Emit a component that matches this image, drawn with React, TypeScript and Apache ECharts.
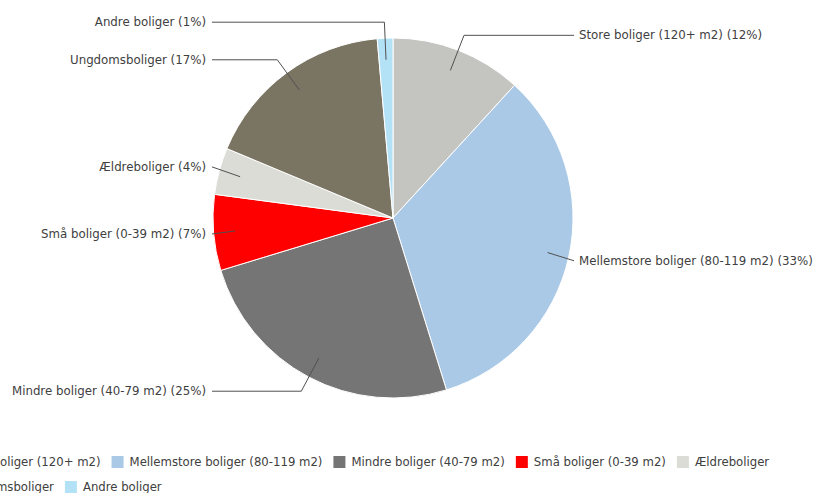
import React, { useEffect, useRef } from "react";
import * as echarts from "echarts";

const categories = [
  "Store boliger (120+ m2)",
  "Mellemstore boliger (80-119 m2)",
  "Mindre boliger (40-79 m2)",
  "Små boliger (0-39 m2)",
  "Ældreboliger",
  "Ungdomsboliger",
  "Andre boliger",
];
const shares = [11.8, 33.4, 25.1, 6.8, 4.2, 17.3, 1.4];
const colors = ["#c4c4c0", "#a9c9e6", "#757575", "#ff0000", "#dcdcd6", "#7a7463", "#b3e2f7"];

const CX = 393;
const CY = 218;
const R = 180;
const LEFT_END = 212;
const RIGHT_END = 574;
const FONT = "DejaVu Sans";

export default function App() {
  const ref = useRef<HTMLDivElement>(null);
  useEffect(() => {
    if (!ref.current) return;
    const chart = echarts.init(ref.current, null, { renderer: "svg" });
    const base = {
      type: "pie",
      center: [CX, CY],
      radius: [0, R],
      startAngle: 90,
      clockwise: true,
    };
    chart.setOption({
      animation: false,
      backgroundColor: "#ffffff",
      legend: {
        left: -67,
        top: 449,
        width: 850,
        orient: "horizontal",
        icon: "rect",
        itemWidth: 14,
        itemHeight: 14,
        itemGap: 9,
        textStyle: { fontFamily: FONT, fontSize: 11.7, color: "#404040", lineHeight: 16 },
        data: categories,
      },
      series: [
        {
          ...base,
          z: 2,
          label: { show: false },
          labelLine: { show: false },
          itemStyle: { borderColor: "#ffffff", borderWidth: 1 },
          data: categories.map((name, i) => ({
            name,
            value: shares[i],
            itemStyle: { color: colors[i] },
          })),
        },
        {
          ...base,
          z: 5,
          silent: true,
          avoidLabelOverlap: true,
          itemStyle: { color: "rgba(0,0,0,0)", borderWidth: 0 },
          label: {
            show: true,
            fontFamily: FONT,
            fontSize: 11.8,
            color: "#404040",
            overflow: "none",
            formatter: (p: any) => `${p.name} (${Math.round(p.percent)}%)`,
          },
          labelLine: {
            show: true,
            showAbove: true,
            length: 16,
            length2: 10,
            lineStyle: { color: "#505050", width: 1 },
          },
          labelLayout: (params: any) => {
            const pts = params.labelLinePoints;
            if (!pts || pts.length < 2) return {};
            const p0 = pts[0];
            const p1 = pts[1];
            const p2 = pts[pts.length - 1];
            const isLeft = p2[0] < CX;
            const dx = p0[0] - CX;
            const dy = p0[1] - CY;
            const q0 = [CX + dx * 0.88, CY + dy * 0.88];
            const ex = isLeft ? LEFT_END : RIGHT_END;
            const q1 = [isLeft ? Math.max(p1[0], ex) : Math.min(p1[0], ex), p1[1]];
            const q2 = [ex, p1[1]];
            return {
              x: isLeft ? ex - 6 : ex + 5,
              y: p1[1],
              align: isLeft ? "right" : "left",
              verticalAlign: "middle",
              labelLinePoints: [q0, q1, q2],
            };
          },
          data: categories.map((name, i) => ({
            name,
            value: shares[i],
          })),
        },
      ],
    });
    return () => chart.dispose();
  }, []);
  return (
    <div
      ref={ref}
      style={{ position: "absolute", left: 0, top: 0, width: 814, height: 493 }}
    />
  );
}
